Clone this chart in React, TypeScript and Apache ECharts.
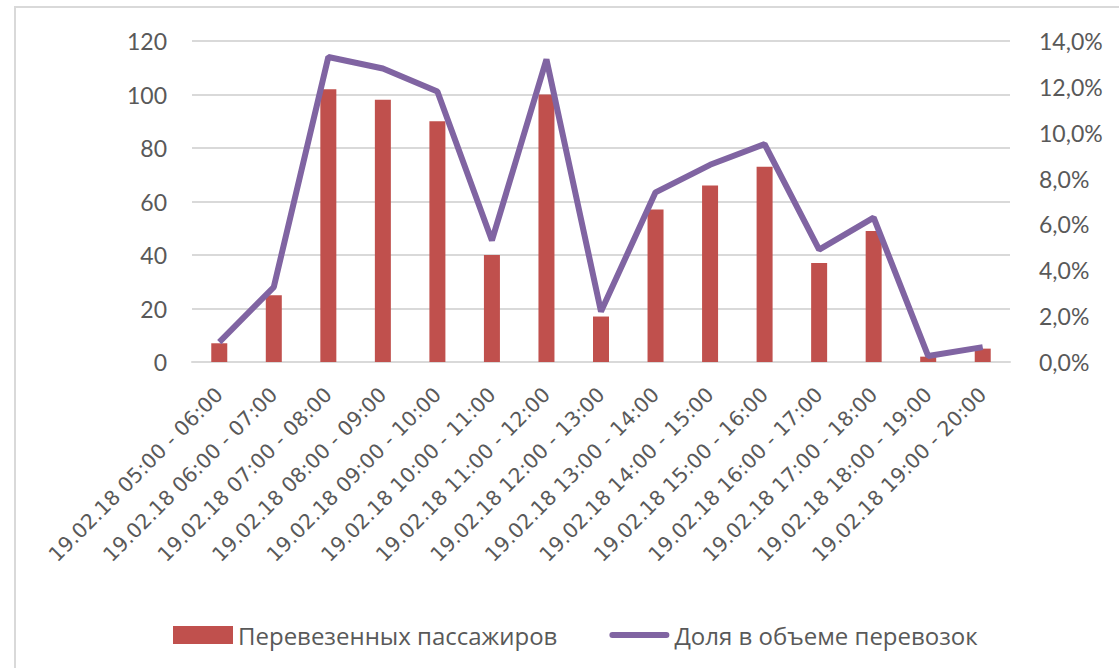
import React, { useEffect, useRef } from "react";
import * as echarts from "echarts";

const categories = [
  "19.02.18 05:00 - 06:00",
  "19.02.18 06:00 - 07:00",
  "19.02.18 07:00 - 08:00",
  "19.02.18 08:00 - 09:00",
  "19.02.18 09:00 - 10:00",
  "19.02.18 10:00 - 11:00",
  "19.02.18 11:00 - 12:00",
  "19.02.18 12:00 - 13:00",
  "19.02.18 13:00 - 14:00",
  "19.02.18 14:00 - 15:00",
  "19.02.18 15:00 - 16:00",
  "19.02.18 16:00 - 17:00",
  "19.02.18 17:00 - 18:00",
  "19.02.18 18:00 - 19:00",
  "19.02.18 19:00 - 20:00",
];

const passengers = [7, 25, 102, 98, 90, 40, 100, 17, 57, 66, 73, 37, 49, 2, 5];

const share = [
  0.0087, 0.0327, 0.133, 0.128, 0.118, 0.053, 0.132, 0.022, 0.074, 0.086,
  0.095, 0.049, 0.063, 0.0026, 0.0065,
];

const seriesNames = ["Перевезенных пассажиров", "Доля в объеме перевозок"];

const FONT = "Lato, 'Liberation Sans', sans-serif";
const WIDE_FONT = "'Open Sans', Lato, sans-serif";
const CAT_FONT = "'DejaVu Sans', 'Open Sans', sans-serif";
const TXT = "#595959";
const GRID = "#d9d9d9";

export default function App() {
  const ref = useRef<HTMLDivElement>(null);
  useEffect(() => {
    if (!ref.current) return;
    const chart = echarts.init(ref.current, undefined, { renderer: "svg" });
    chart.setOption({
      animation: false,
      textStyle: { fontFamily: FONT, color: TXT },
      graphic: [
        {
          type: "rect",
          shape: { x: 15, y: 7, width: 1200, height: 800 },
          style: { fill: "none", stroke: GRID, lineWidth: 2 },
          silent: true,
        },
      ],
      grid: { left: 192, right: 109, top: 41, bottom: 306 },
      legend: {
        left: 168,
        top: 618,
        itemGap: 52,
        itemWidth: 60,
        itemHeight: 18,
        textStyle: { fontFamily: WIDE_FONT, fontSize: 24, color: TXT },
        data: [
          { name: seriesNames[0], icon: "rect" },
          { name: seriesNames[1], icon: "path://M3,0 L57,0 A3,3 0 0 1 57,6 L3,6 A3,3 0 0 1 3,0 Z" },
        ],
      },
      xAxis: {
        type: "category",
        data: categories,
        axisLine: { lineStyle: { color: GRID, width: 2 } },
        axisTick: { show: false },
        axisLabel: {
          interval: 0,
          rotate: 45,
          margin: 29,
          fontFamily: CAT_FONT,
          fontSize: 20.5,
          color: TXT,
        },
      },
      yAxis: [
        {
          type: "value",
          min: 0,
          max: 120,
          interval: 20,
          axisLine: { show: false },
          axisTick: { show: false },
          splitLine: { lineStyle: { color: GRID, width: 2 } },
          axisLabel: { margin: 25, fontFamily: FONT, fontSize: 23, color: TXT },
        },
        {
          type: "value",
          min: 0,
          max: 0.14,
          interval: 0.02,
          axisLine: { show: false },
          axisTick: { show: false },
          splitLine: { show: false },
          axisLabel: {
            margin: 29,
            fontFamily: FONT,
            fontSize: 23,
            color: TXT,
            formatter: (v: number) => (v * 100).toFixed(1).replace(".", ",") + "%",
          },
        },
      ],
      series: [
        {
          name: seriesNames[0],
          type: "bar",
          data: passengers,
          barWidth: 16,
          itemStyle: { color: "#C0504D" },
        },
        {
          name: seriesNames[1],
          type: "line",
          yAxisIndex: 1,
          data: share,
          showSymbol: false,
          symbol: "none",
          lineStyle: { color: "#8064A2", width: 6 },
          itemStyle: { color: "#8064A2" },
        },
      ],
    });
    return () => chart.dispose();
  }, []);
  return (
    <div
      ref={ref}
      style={{ position: "fixed", left: 0, top: 0, width: 1119, height: 668, background: "#fff" }}
    />
  );
}
